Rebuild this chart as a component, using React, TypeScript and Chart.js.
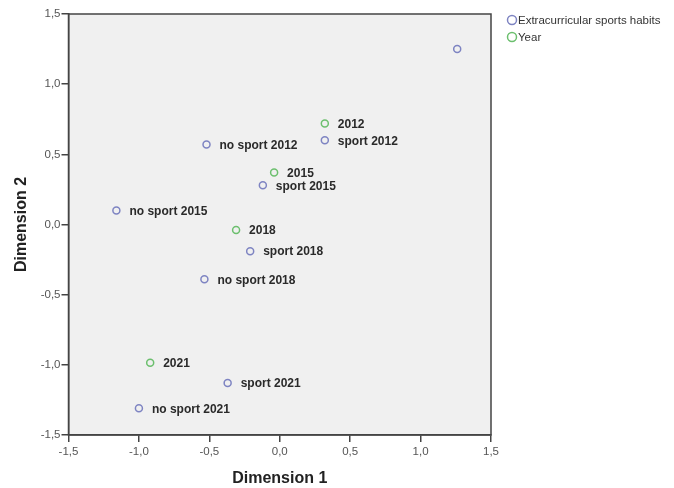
import React, { useEffect, useRef } from "react";
import { Chart, registerables } from "chart.js";

Chart.register(...registerables);

// Extracurricular sports habits (blue)
const habitLabels = ["", "sport 2012", "no sport 2012", "sport 2015", "no sport 2015", "sport 2018", "no sport 2018", "sport 2021", "no sport 2021"];
const habitX = [1.26, 0.32, -0.52, -0.12, -1.16, -0.21, -0.535, -0.37, -1.0];
const habitY = [1.25, 0.60, 0.57, 0.28, 0.10, -0.19, -0.39, -1.13, -1.31];

// Year (green)
const yearLabels = ["2012", "2015", "2018", "2021"];
const yearX = [0.32, -0.04, -0.31, -0.92];
const yearY = [0.72, 0.37, -0.04, -0.985];

const axisTicks = [-1.5, -1.0, -0.5, 0.0, 0.5, 1.0, 1.5];
const legendNames = ["Extracurricular sports habits", "Year"];

const BLUE = "#7e84c2";
const GREEN = "#6cbf6e";
const FONT = "'Liberation Sans', Arial, sans-serif";

const fmt = (v: number) => v.toFixed(1).replace(".", ",");

export default function App() {
  const ref = useRef<HTMLCanvasElement | null>(null);

  useEffect(() => {
    if (!ref.current) return;

    const bgPlugin = {
      id: "bgPlugin",
      beforeDraw(chart: any) {
        const { ctx, chartArea: a } = chart;
        ctx.save();
        ctx.fillStyle = "#f0f0f0";
        ctx.fillRect(a.left, a.top, a.right - a.left, a.bottom - a.top);
        ctx.restore();
      },
      afterDraw(chart: any) {
        const { ctx, chartArea: a } = chart;
        ctx.save();
        ctx.strokeStyle = "#444";
        ctx.lineWidth = 1.5;
        ctx.strokeRect(a.left, a.top, a.right - a.left, a.bottom - a.top);
        // point labels
        ctx.font = `bold 12px ${FONT}`;
        ctx.fillStyle = "#2a2a2a";
        ctx.textBaseline = "middle";
        ctx.textAlign = "left";
        chart.data.datasets.forEach((ds: any, di: number) => {
          const meta = chart.getDatasetMeta(di);
          meta.data.forEach((pt: any, i: number) => {
            const lbl = ds.pointLabels[i];
            if (!lbl) return;
            ctx.fillText(lbl, pt.x + 13, pt.y + 1);
          });
        });
        // legend
        const colors = [BLUE, GREEN];
        const rows = [20, 37];
        ctx.font = `11.5px ${FONT}`;
        ctx.fillStyle = "#333";
        legendNames.forEach((n, i) => {
          ctx.beginPath();
          ctx.strokeStyle = colors[i];
          ctx.lineWidth = 1.5;
          ctx.arc(512, rows[i], 4.5, 0, Math.PI * 2);
          ctx.stroke();
          ctx.fillText(n, 518, rows[i] + 1);
        });
        ctx.restore();
      },
    };

    const chart = new Chart(ref.current, {
      type: "scatter",
      data: {
        datasets: [
          {
            label: legendNames[0],
            data: habitX.map((x, i) => ({ x, y: habitY[i] })),
            pointLabels: habitLabels,
            borderColor: BLUE,
            backgroundColor: "rgba(0,0,0,0)",
            pointRadius: 3.5,
            pointBorderWidth: 1.5,
          } as any,
          {
            label: legendNames[1],
            data: yearX.map((x, i) => ({ x, y: yearY[i] })),
            pointLabels: yearLabels,
            borderColor: GREEN,
            backgroundColor: "rgba(0,0,0,0)",
            pointRadius: 3.5,
            pointBorderWidth: 1.5,
          } as any,
        ],
      },
      options: {
        animation: false,
        responsive: true,
        maintainAspectRatio: false,
        layout: { padding: { top: 14, right: 183, left: 0, bottom: 0 } },
        plugins: { legend: { display: false }, tooltip: { enabled: false } },
        scales: {
          x: {
            type: "linear",
            min: -1.5,
            max: 1.5,
            afterBuildTicks: (s: any) => { s.ticks = axisTicks.map((v) => ({ value: v })); },
            afterFit: (s: any) => { s.height = 53; },
            ticks: { callback: (v: any) => fmt(Number(v)), color: "#555", font: { family: FONT, size: 11.5 }, padding: 3, maxRotation: 0 },
            grid: { drawOnChartArea: false, drawTicks: true, tickLength: 7, color: "#444", lineWidth: 1.5 },
            border: { display: true, color: "#444", width: 1.5 },
            title: { display: true, text: "Dimension 1", color: "#222", font: { family: FONT, size: 16, weight: "bold" }, padding: { top: 0, bottom: 0 } },
          },
          y: {
            type: "linear",
            min: -1.5,
            max: 1.5,
            afterBuildTicks: (s: any) => { s.ticks = axisTicks.map((v) => ({ value: v })); },
            afterFit: (s: any) => { s.width = 68.5; },
            ticks: { callback: (v: any) => fmt(Number(v)), color: "#555", font: { family: FONT, size: 11.5 }, padding: 1 },
            grid: { drawOnChartArea: false, drawTicks: true, tickLength: 7, color: "#444", lineWidth: 1.5 },
            border: { display: true, color: "#444", width: 1.5 },
            title: { display: true, text: "Dimension 2", color: "#222", font: { family: FONT, size: 16, weight: "bold" }, padding: { top: 12, bottom: 0 } },
          },
        },
      } as any,
      plugins: [bgPlugin],
    });
    return () => chart.destroy();
  }, []);

  return (
    <div style={{ position: "fixed", left: 0, top: 0, width: 674, height: 488, background: "#fff" }}>
      <canvas ref={ref} />
    </div>
  );
}
